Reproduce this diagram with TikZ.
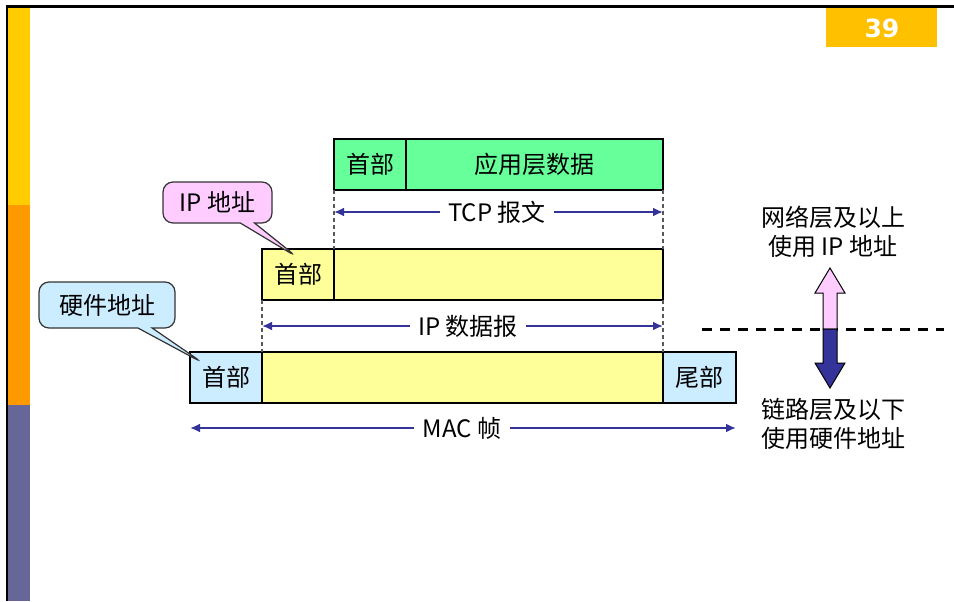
\documentclass[tikz,border=0pt]{standalone}
\usepackage{fontspec}
\setmainfont{Noto Sans CJK SC}
\newfontfamily\numfont{DejaVu Sans}
\usetikzlibrary{positioning,shapes.callouts,arrows.meta}
\definecolor{tcpgreen}{HTML}{66FF99}
\definecolor{ipyellow}{HTML}{FFFF99}
\definecolor{macblue}{HTML}{CCECFF}
\definecolor{calloutpink}{HTML}{FFCCFF}
\definecolor{dimblue}{HTML}{333399}
\definecolor{pagegold}{HTML}{FFC000}
\definecolor{baryellow}{HTML}{FFCC00}
\definecolor{barorange}{HTML}{FF9900}
\definecolor{barpurple}{HTML}{666699}
\begin{document}
\begin{tikzpicture}[x=0.5pt,y=-0.5pt,
        font=\fontsize{12}{14.5}\selectfont,
        box/.style={
            draw=black, line width=1.3pt,
            minimum height=25.5pt,
            inner sep=0pt, outer sep=0pt},
        headbox/.style={box, minimum width=36pt},
        guide/.style={
            draw=gray!70!black, line width=0.6pt,
            dash pattern=on 2pt off 1.5pt},
        dim/.style={
            draw=dimblue, line width=1.4pt,
            -{Latex[length=5pt,width=4.5pt]}},
        label/.style={inner sep=4pt},
        callout/.style={
            rectangle callout,
            draw=black!80, line width=0.6pt,
            rounded corners=5pt,
            inner sep=0pt}
        ]

        \useasboundingbox (0,0) rectangle (954,601);

        \fill[black] (6,5) rectangle (954,8);
        \fill[black] (6,5) rectangle (8,601);
        \fill[baryellow] (8,8) rectangle (30,205);
        \fill[barorange] (8,205) rectangle (30,405);
        \fill[barpurple] (8,405) rectangle (30,601);

        \node (page) [anchor=north west, fill=pagegold, minimum width=55.5pt, minimum height=19.5pt,
            text=white, font=\numfont\bfseries\fontsize{12.5}{14}\selectfont] at (826,8) {39};

        \node (tcphead) [headbox, fill=tcpgreen, anchor=north west] at (334,139) {首部};
        \node (tcpdata) [box, fill=tcpgreen, minimum width=128.5pt, right=0pt of tcphead] {应用层数据};

        \node (iphead) [headbox, fill=ipyellow, anchor=north west] at (262,249) {首部};
        \node (ipdata) [box, fill=ipyellow, minimum width=164.5pt, right=0pt of iphead] {};

        \node (machead) [headbox, fill=macblue, anchor=north west] at (190,352) {首部};
        \node (macdata) [box, fill=ipyellow, minimum width=200.5pt, right=0pt of machead] {};
        \node (mactail) [box, fill=macblue, minimum width=36.5pt, right=0pt of macdata] {尾部};

        \draw [guide] (tcphead.south west) -- (ipdata.north west);
        \draw [guide] (tcpdata.south east) -- (ipdata.north east);
        \draw [guide] (iphead.south west) -- (machead.north east);
        \draw [guide] (ipdata.south east) -- (macdata.north east);

        \node (tcplabel) [label] at (497,212) {TCP 报文};
        \coordinate (tcpL) at (tcphead.west |- tcplabel);
        \coordinate (tcpR) at (tcpdata.east |- tcplabel);
        \draw [dim] (tcplabel) -- (tcpL);
        \draw [dim] (tcplabel) -- (tcpR);

        \node (iplabel) [label] at (468,326) {IP 数据报};
        \coordinate (ipL) at (iphead.west |- iplabel);
        \coordinate (ipR) at (ipdata.east |- iplabel);
        \draw [dim] (iplabel) -- (ipL);
        \draw [dim] (iplabel) -- (ipR);

        \node (maclabel) [label] at (462,428) {MAC 帧};
        \coordinate (macL) at (machead.west |- maclabel);
        \coordinate (macR) at (mactail.east |- maclabel);
        \draw [dim] (maclabel) -- (macL);
        \draw [dim] (maclabel) -- (macR);

        \node (ipaddr) [callout, fill=calloutpink, minimum width=54.5pt, minimum height=20.5pt,
            callout absolute pointer={(297,257)}] at (217.5,202.5) {IP 地址};
        \node (hwaddr) [callout, fill=macblue, minimum width=68pt, minimum height=23pt,
            callout absolute pointer={(203,363)}] at (107,305) {硬件地址};

        \coordinate (layerL) at (702,329);
        \coordinate (layerR) at (944,329);
        \draw [line width=1.5pt, dash pattern=on 5pt off 4pt] (layerL) -- (layerR);

        \filldraw [fill=calloutpink, draw=black, line width=0.5pt]
            (823,329) -- (823,293) -- (815,293) -- (830,268) -- (845,293) -- (837,293) -- (837,329) -- cycle;
        \filldraw [fill=dimblue, draw=black, line width=0.5pt]
            (823,329) -- (823,363) -- (815,363) -- (830,388) -- (845,363) -- (837,363) -- (837,329) -- cycle;

        \node (upper) [align=center] at (833,231.5) {网络层及以上\\使用 IP 地址};
        \node (lower) [align=center] at (833,424) {链路层及以下\\使用硬件地址};

        \end{tikzpicture}
\end{document}
